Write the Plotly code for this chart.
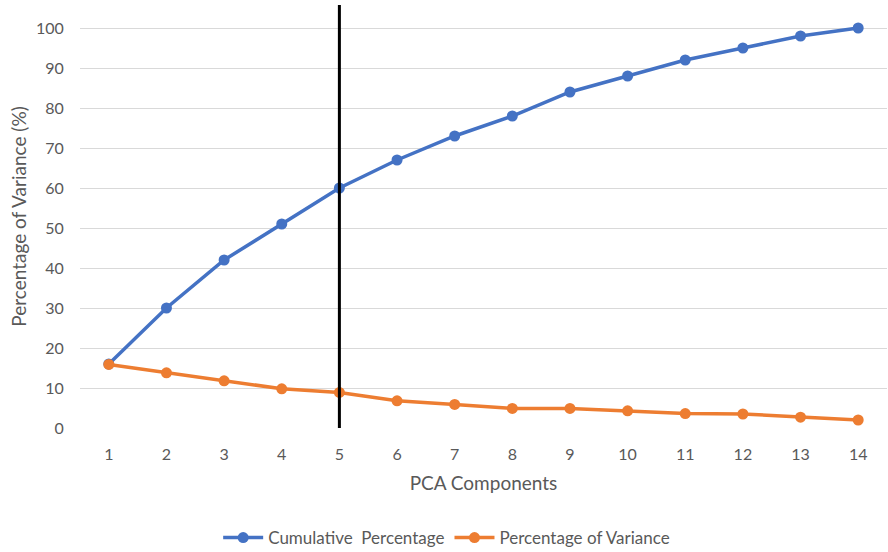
import plotly.graph_objects as go

# PCA explained variance per component
components = list(range(1, 15))
cumulative_pct = [16, 30, 42, 51, 60, 67, 73, 78, 84, 88, 92, 95, 98, 100]
variance_pct = [15.9, 13.8, 11.8, 9.8, 8.9, 6.8, 5.9, 4.9, 4.9, 4.3, 3.6, 3.5, 2.7, 2.0]
y_ticks = list(range(0, 101, 10))
cutoff_component = 5
y_top = 105.75

BLUE = "#4472C4"
ORANGE = "#ED7D31"
GREY_TXT = "#595959"
FONT = "Lato, Carlito, 'Open Sans', sans-serif"

fig = go.Figure()
fig.add_trace(go.Scatter(
    x=components, y=cumulative_pct, name="Cumulative  Percentage",
    mode="lines+markers", line=dict(color=BLUE, width=3.5),
    marker=dict(size=11, color=BLUE), cliponaxis=False,
))
fig.add_trace(go.Scatter(
    x=components, y=variance_pct, name="Percentage of Variance",
    mode="lines+markers", line=dict(color=ORANGE, width=3.5),
    marker=dict(size=11, color=ORANGE), cliponaxis=False,
))
# cutoff marker at the chosen number of components
fig.add_trace(go.Scatter(
    x=[cutoff_component, cutoff_component], y=[0, y_top],
    mode="lines", line=dict(color="black", width=3),
    showlegend=False, hoverinfo="skip", cliponaxis=False,
))

fig.update_layout(
    width=888, height=552,
    margin=dict(l=80, r=1, t=5, b=124),
    paper_bgcolor="white", plot_bgcolor="white",
    font=dict(family=FONT, size=16, color=GREY_TXT),
    legend=dict(orientation="h", x=0.503, xanchor="center", xref="container",
                y=0.0254, yanchor="middle", yref="container",
                font=dict(size=17, color=GREY_TXT), itemwidth=40,
                traceorder="normal"),
    xaxis=dict(
        range=[0.5, 14.5], tickmode="array", tickvals=components,
        ticktext=[str(c) for c in components],
        showgrid=False, zeroline=False, showline=False,
        ticks="outside", ticklen=12, tickcolor="rgba(0,0,0,0)",
        title=dict(text="PCA Components", standoff=14,
                   font=dict(size=19, color=GREY_TXT)),
    ),
    yaxis=dict(
        range=[0, y_top], tickmode="array", tickvals=y_ticks,
        showgrid=True, gridcolor="#d9d9d9", gridwidth=1,
        zeroline=False, showline=False,
        ticks="outside", ticklen=12, tickcolor="rgba(0,0,0,0)",
        title=dict(text="Percentage of Variance (%)", standoff=4,
                   font=dict(size=19, color=GREY_TXT)),
    ),
)

fig.write_html("out.html")
